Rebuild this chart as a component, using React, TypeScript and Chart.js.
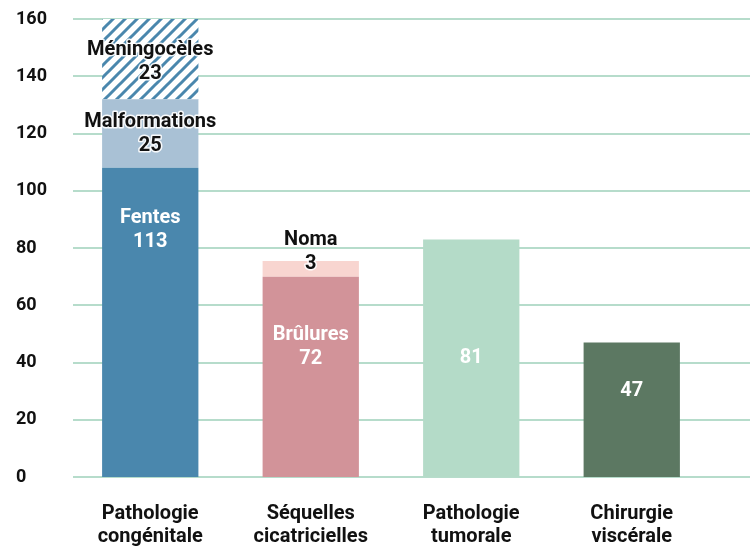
import React, { useEffect, useRef } from "react";
import { Chart, registerables } from "chart.js";

Chart.register(...registerables);

const categories: string[][] = [
  ["Pathologie", "congénitale"],
  ["Séquelles", "cicatricielles"],
  ["Pathologie", "tumorale"],
  ["Chirurgie", "viscérale"],
];

// Bar heights as drawn in the picture
const fentes = [108, null, null, null];
const malformations = [24, null, null, null];
const meningoceles = [28, null, null, null];
const brulures = [null, 70, null, null];
const noma = [null, 5.5, null, null];
const tumorale = [null, null, 83, null];
const viscerale = [null, null, null, 47];

// Printed labels
const labelNames = ["Fentes", "Malformations", "Méningocèles", "Brûlures", "Noma", "", ""];
const labelNumbers = ["113", "25", "23", "72", "3", "81", "47"];

const yTicks = [0, 20, 40, 60, 80, 100, 120, 140, 160];

const FONT = "Roboto, 'Liberation Sans', sans-serif";

// label placement (dataset index, category index, vertical anchor in value units, colour)
const labelPlacement = [
  { ds: 0, cat: 0, at: 86.3, color: "#ffffff" },
  { ds: 1, cat: 0, at: 119.8, color: "#111111" },
  { ds: 2, cat: 0, at: 145, color: "#111111" },
  { ds: 3, cat: 1, at: 45.3, color: "#ffffff" },
  { ds: 4, cat: 1, at: 78.6, color: "#111111" },
  { ds: 5, cat: 2, at: 41.5, color: "#ffffff" },
  { ds: 6, cat: 3, at: 30, color: "#ffffff" },
];

function makeHatch(): CanvasPattern | string {
  const c = document.createElement("canvas");
  const s = 12;
  c.width = s;
  c.height = s;
  const ctx = c.getContext("2d");
  if (!ctx) return "#4a87ad";
  ctx.fillStyle = "#ffffff";
  ctx.fillRect(0, 0, s, s);
  ctx.strokeStyle = "#4a87ad";
  ctx.lineWidth = 3;
  ctx.lineCap = "square";
  ctx.beginPath();
  ctx.moveTo(-s, s * 2);
  ctx.lineTo(s * 2, -s);
  ctx.moveTo(-s, s);
  ctx.lineTo(s, -s);
  ctx.moveTo(0, s * 2);
  ctx.lineTo(s * 2, 0);
  ctx.stroke();
  const p = ctx.createPattern(c, "repeat");
  return p || "#4a87ad";
}

const gridPlugin = {
  id: "fullGrid",
  beforeDatasetsDraw(chart: any) {
    const { ctx, chartArea, scales } = chart;
    const y = scales.y;
    ctx.save();
    ctx.strokeStyle = "#b6dccb";
    ctx.lineWidth = 2;
    yTicks.forEach((v) => {
      const py = Math.round(y.getPixelForValue(v));
      ctx.beginPath();
      ctx.moveTo(chartArea.left + 3, py);
      ctx.lineTo(chart.width, py);
      ctx.stroke();
    });
    ctx.restore();
  },
};

const labelPlugin = {
  id: "barLabels",
  afterDatasetsDraw(chart: any) {
    const { ctx, scales } = chart;
    ctx.save();
    ctx.font = `bold 20px ${FONT}`;
    ctx.textAlign = "center";
    ctx.textBaseline = "middle";
    ctx.lineJoin = "round";
    labelPlacement.forEach((lp, i) => {
      const meta = chart.getDatasetMeta(lp.ds);
      const el = meta.data[lp.cat];
      if (!el) return;
      const x = el.x;
      const yc = scales.y.getPixelForValue(lp.at);
      const name = labelNames[i];
      const lines: [string, number][] = name
        ? [[name, yc - 12], [labelNumbers[i], yc + 12]]
        : [[labelNumbers[i], yc]];
      lines.forEach(([t, ty]) => {
        if (lp.color !== "#ffffff") {
          ctx.strokeStyle = "rgba(255,255,255,0.9)";
          ctx.lineWidth = 3;
          ctx.strokeText(t, x, ty);
        }
        ctx.fillStyle = lp.color;
        ctx.fillText(t, x, ty);
      });
    });
    ctx.restore();
  },
};

export default function App() {
  const ref = useRef<HTMLCanvasElement | null>(null);

  useEffect(() => {
    if (!ref.current) return;
    const hatch = makeHatch();
    const chart = new Chart(ref.current, {
      type: "bar",
      data: {
        labels: categories,
        datasets: [
          { label: "Fentes", data: fentes, backgroundColor: "#4a87ad" },
          { label: "Malformations", data: malformations, backgroundColor: "#a9c1d5" },
          { label: "Méningocèles", data: meningoceles, backgroundColor: hatch as any },
          { label: "Brûlures", data: brulures, backgroundColor: "#d29399" },
          { label: "Noma", data: noma, backgroundColor: "#f8d5d0" },
          { label: "Pathologie tumorale", data: tumorale, backgroundColor: "#b4dbc8" },
          { label: "Chirurgie viscérale", data: viscerale, backgroundColor: "#5c7862" },
        ] as any,
      },
      options: {
        responsive: false,
        animation: false,
        layout: { padding: { left: 16, right: 38, top: 19, bottom: 0 } },
        plugins: {
          legend: { display: false },
          tooltip: { enabled: false },
        },
        datasets: {
          bar: {
            categoryPercentage: 1,
            barPercentage: 0.6,
            skipNull: true,
          } as any,
        },
        scales: {
          x: {
            stacked: true,
            grid: { display: false },
            border: { display: false },
            ticks: {
              color: "#111111",
              padding: 17,
              font: { family: FONT, size: 20, weight: "bold", lineHeight: 23 / 20 },
              maxRotation: 0,
            },
            afterFit: (s: any) => {
              s.height = 75;
            },
          },
          y: {
            stacked: true,
            min: 0,
            max: 160,
            grid: { display: false },
            border: { display: false },
            ticks: {
              stepSize: 20,
              color: "#111111",
              crossAlign: "far",
              font: { family: FONT, size: 18, weight: "bold" },
            },
            afterFit: (s: any) => {
              s.width = 54;
            },
          },
        },
      },
      plugins: [gridPlugin, labelPlugin],
    });
    return () => chart.destroy();
  }, []);

  return (
    <div style={{ position: "fixed", left: 0, top: 0, width: 750, height: 552, background: "#ffffff" }}>
      <canvas ref={ref} width={750} height={552} style={{ display: "block" }} />
    </div>
  );
}
